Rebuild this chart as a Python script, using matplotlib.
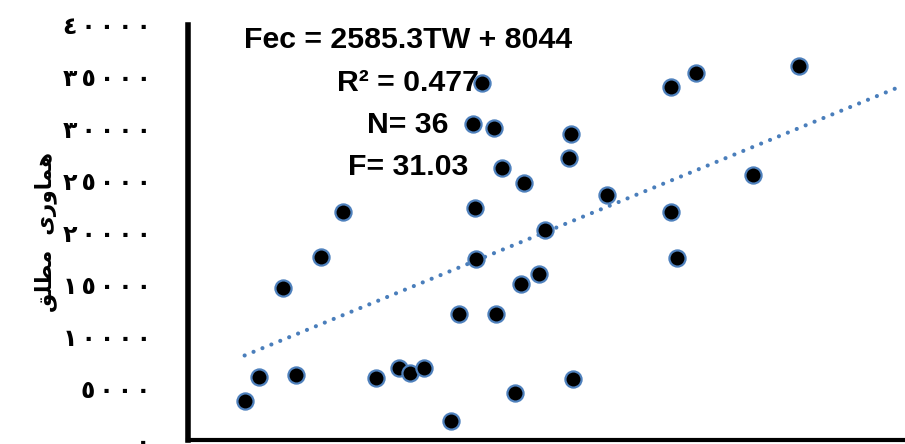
import matplotlib
matplotlib.use("Agg")
import matplotlib.pyplot as plt
import numpy as np

# ---- data ----
tw = [0.04, 0.26, 0.63, 0.82, 1.21, 1.55, 2.05, 2.40, 2.57, 2.79, 3.20, 3.32,
      3.54, 3.56, 3.58, 3.67, 3.85, 3.89, 3.97, 4.17, 4.27, 4.32, 4.54, 4.63,
      5.00, 5.03, 5.06, 5.58, 6.56, 6.56, 6.65, 6.95, 7.82, 8.52]
fec = [3730, 6070, 14620, 6270, 17640, 22010, 5950, 6970, 6430, 6970, 1800, 12120,
       30460, 22390, 17450, 34440, 30070, 12120, 26190, 4560, 15010, 24800, 16030, 20210,
       27150, 29500, 5910, 23620, 34030, 22010, 17540, 35400, 25570, 36080]
slope = 2585.3
intercept = 8044
trend_x_end = 10.06
yticks = [0, 5000, 10000, 15000, 20000, 25000, 30000, 35000, 40000]
ytick_labels = ["٠", "٥٠٠٠", "١٠٠٠٠", "١٥٠٠٠", "٢٠٠٠٠", "٢٥٠٠٠", "٣٠٠٠٠", "٣٥٠٠٠", "٤٠٠٠٠"]
ylabel_text = "\uFED6\uFEE0\uFEC4\uFEE3  \uFEEF\uFEAD\uFEED\uFE8E\uFEE4\uFEEB"  # هماوری مطلق (visual order)
stats_lines = ["Fec = 2585.3TW + 8044", "R² = 0.477", "N= 36", "F= 31.03"]

W, H = 905, 444
fig = plt.figure(figsize=(W / 100, H / 100), dpi=100)
ax = fig.add_axes([188 / W, 4 / H, (W - 188) / W, 415 / H])

blue = "#4A7EBB"
ax.scatter(tw, fec, s=135, c="black", edgecolors="#4F81BD", linewidths=1.6, zorder=3,
           clip_on=False)

xt = np.array([min(tw), trend_x_end])
ax.plot(xt, slope * xt + intercept, color=blue, lw=3.0,
        linestyle=(0, (0.01, 2.3)), dash_capstyle="round", zorder=2)

ax.set_xlim(-0.826, 10.14)
ax.set_ylim(0, 40000)

sp = lambda s: "\u2006".join(list(s))
ax.set_yticks(yticks)
ax.set_yticklabels([sp(t) for t in ytick_labels], fontsize=17, fontweight="bold",
                   family=["DejaVu Sans"])
ax.tick_params(axis="y", length=0, pad=27)
ax.set_xticks([])

for s in ["top", "right"]:
    ax.spines[s].set_visible(False)
ax.spines["left"].set_linewidth(4.0)
ax.spines["bottom"].set_linewidth(3.0)

ax.set_ylabel(ylabel_text, fontsize=15.5, fontweight="bold", family=["DejaVu Sans"],
              labelpad=4)

ys = [48, 91, 133, 175]
for t, y in zip(stats_lines, ys):
    fig.text(408 / W, 1 - y / H, t, ha="center", va="baseline", fontsize=21.8,
             fontweight="bold", family=["Liberation Sans", "DejaVu Sans"])

fig.savefig("out.png", dpi=100)
